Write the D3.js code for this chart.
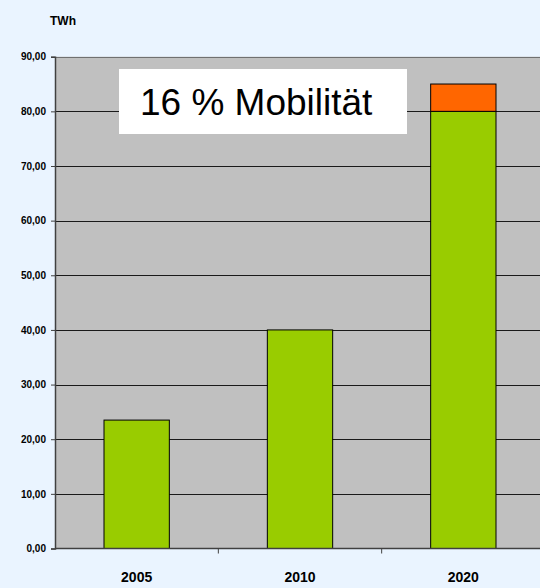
<!DOCTYPE html>
<html><head><meta charset="utf-8">
<script src="https://cdn.jsdelivr.net/npm/d3@7"></script>
<style>body{margin:0;background:#EAF4FF;}svg{display:block;font-family:"Liberation Sans",Arial,sans-serif;}</style>
</head><body>
<script>
const categories = ["2005", "2010", "2020"];
const baseValues = [23.5, 40.0, 80.0];
const mobilityValues = [0, 0, 5.0];
const yTicks = [0, 10, 20, 30, 40, 50, 60, 70, 80, 90];
const unitLabel = "TWh";
const boxText = "16 % Mobilität";

const W = 540, H = 588;
const m = {left: 55, right: -5, top: 56.7, bottom: 39.5};
const svg = d3.select("body").append("svg").attr("width", W).attr("height", H);
svg.append("rect").attr("width", W).attr("height", H).attr("fill", "#EAF4FF");

const x = d3.scaleBand().domain(categories).range([m.left, W - m.right]).paddingInner(0.6).paddingOuter(0.3);
const y = d3.scaleLinear().domain([0, 90]).range([H - m.bottom, m.top]);

svg.append("rect").attr("x", m.left).attr("y", m.top).attr("width", W - m.right - m.left).attr("height", y(0) - m.top).attr("fill", "#C0C0C0");

// gridlines
svg.append("g").selectAll("line").data(yTicks.filter(d => d > 0)).join("line")
  .attr("x1", m.left).attr("x2", W - m.right)
  .attr("y1", d => Math.round(y(d)) + 0.5).attr("y2", d => Math.round(y(d)) + 0.5)
  .attr("stroke", d => d === 90 ? "#707070" : "#1a1a1a").attr("stroke-width", 1);

// bars
const stack = categories.map((c, i) => ({c, base: baseValues[i], mob: mobilityValues[i]}));
svg.append("g").selectAll("rect").data(stack).join("rect")
  .attr("x", d => x(d.c)).attr("width", x.bandwidth())
  .attr("y", d => y(d.base)).attr("height", d => y(0) - y(d.base))
  .attr("fill", "#99CC00").attr("stroke", "#000").attr("stroke-width", 1);
svg.append("g").selectAll("rect").data(stack.filter(d => d.mob > 0)).join("rect")
  .attr("x", d => x(d.c)).attr("width", x.bandwidth())
  .attr("y", d => y(d.base + d.mob)).attr("height", d => y(d.base) - y(d.base + d.mob))
  .attr("fill", "#FF6600").attr("stroke", "#000").attr("stroke-width", 1);

// y axis
const fmt = d => d3.format(".2f")(d).replace(".", ",");
const yAxis = svg.append("g").attr("transform", `translate(${m.left},0)`)
  .call(d3.axisLeft(y).tickValues(yTicks).tickFormat(fmt).tickSize(4).tickPadding(5));
yAxis.select(".domain").attr("stroke", "#404040").attr("stroke-width", 1.5);
yAxis.selectAll(".tick line").attr("stroke", "#404040");
yAxis.selectAll("text").attr("font-size", 10).attr("font-weight", "bold").attr("fill", "#000")
  .attr("font-family", "'Liberation Sans',Arial,sans-serif");

// x axis
const step = x.step();
const bounds = [x(categories[1]) - step * x.paddingInner() / 2, x(categories[2]) - step * x.paddingInner() / 2];
const xg = svg.append("g");
xg.append("line").attr("x1", m.left).attr("x2", W).attr("y1", y(0)).attr("y2", y(0)).attr("stroke", "#404040").attr("stroke-width", 1.5);
xg.selectAll("line.t").data(bounds).join("line").attr("class", "t")
  .attr("x1", d => d).attr("x2", d => d).attr("y1", y(0)).attr("y2", y(0) + 5).attr("stroke", "#404040");
xg.selectAll("text").data(categories).join("text")
  .attr("x", d => x(d) + x.bandwidth() / 2).attr("y", 582)
  .attr("text-anchor", "middle").attr("font-size", 14).attr("font-weight", "bold").text(d => d);

// unit label
svg.append("text").attr("x", 50).attr("y", 25).attr("font-size", 12).attr("font-weight", "bold").text(unitLabel);

// text box
svg.append("rect").attr("x", 119).attr("y", 69).attr("width", 288).attr("height", 65).attr("fill", "#fff");
svg.append("text").attr("x", 140).attr("y", 115).attr("text-anchor", "start").attr("font-size", 37).text(boxText);
</script>
</body></html>
